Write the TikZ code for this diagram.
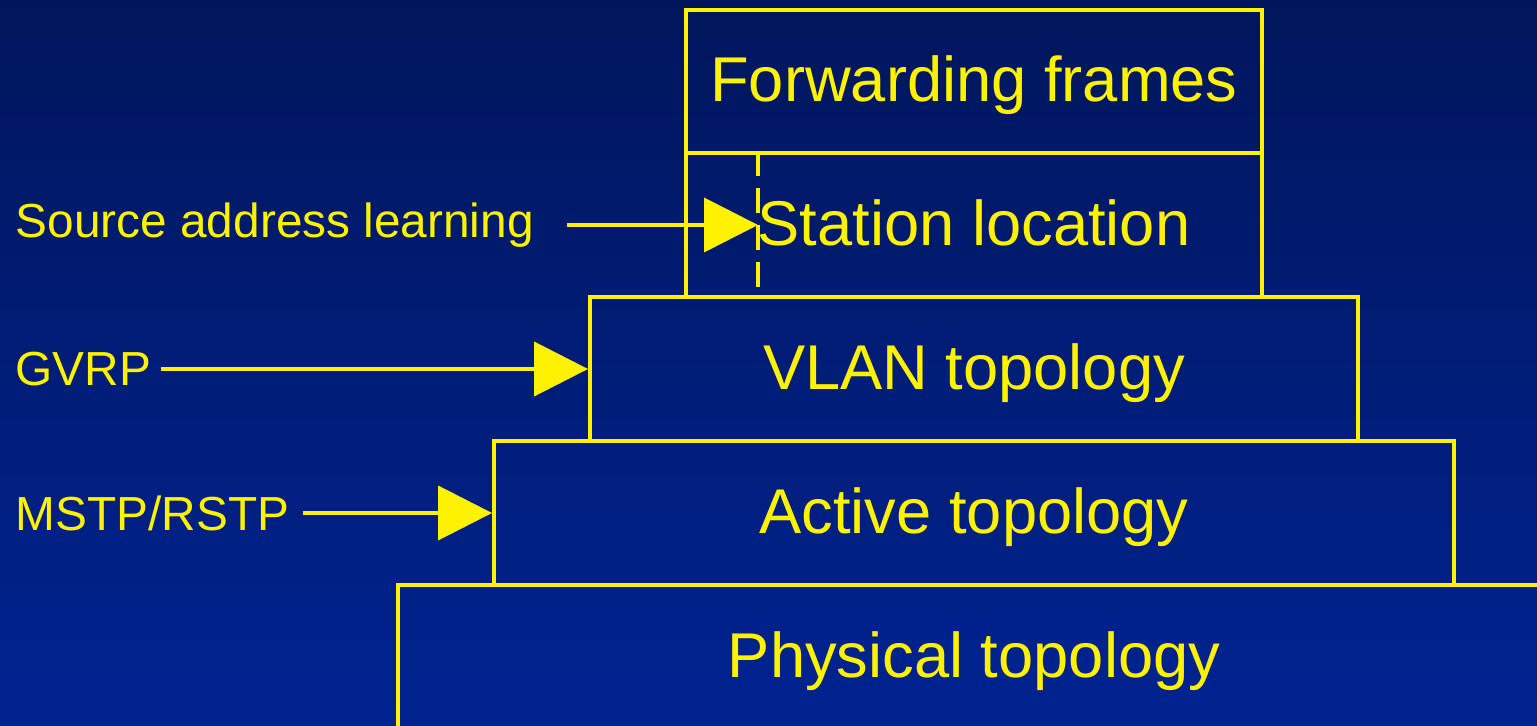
\documentclass[tikz,border=0pt]{standalone}
\usepackage{fontspec}
\setmainfont{Liberation Sans}
\usetikzlibrary{arrows.meta,positioning}
\definecolor{bgtop}{RGB}{0,22,92}
\definecolor{bgbot}{RGB}{0,35,145}

\begin{document}
\begin{tikzpicture}[
    layer/.style={draw=yellow,line width=1.1pt,text=yellow,minimum height=1.44cm,
      inner sep=0pt,text height=14pt,text depth=2.4pt,font=\fontsize{18}{21}\selectfont},
    side/.style={text=yellow,anchor=west,inner sep=0pt,font=\fontsize{13.6}{16}\selectfont},
    feed/.style={draw=yellow,line width=1.1pt,-{Triangle[length=5.4mm,width=5.4mm]}}
  ]
    % \draw[step=1cm,help lines] (0,0) grid (15.37,7.25);
    \shade[top color=bgtop,bottom color=bgbot] (0,0) rectangle (15.37,7.25);
    \clip (0,0) rectangle (15.37,7.25);

    \node[layer,minimum width=5.76cm,minimum height=1.43cm] (ff) at (9.74,6.435) {Forwarding frames};
    \node[layer,minimum width=5.76cm] (sl) at (9.74,5.00) {Station location};
    \node[layer,minimum width=7.68cm] (vt) at (9.74,3.56) {VLAN topology};
    \node[layer,minimum width=9.60cm] (at) at (9.74,2.12) {Active topology};
    \node[layer,minimum width=11.52cm] (pt) at (9.74,0.68) {Physical topology};

    \coordinate (dl) at (7.58,5.00);
    \draw[yellow,line width=1.1pt,dash pattern=on 2.5mm off 1.2mm] (dl |- sl.north) -- (dl |- sl.south);

    \node[side] (src) at (0.15,5.00) {Source address learning};
    \node[side] (gvrp) at (0.15,3.56) {GVRP};
    \node[side] (mstp) at (0.15,2.12) {MSTP/RSTP};

    \draw[feed] ([xshift=3.2mm]src.east) -- (dl);
    \draw[feed] ([xshift=0.9mm]gvrp.east) -- (vt.west);
    \draw[feed] ([xshift=1.3mm]mstp.east) -- (at.west);
\end{tikzpicture}
\end{document}
